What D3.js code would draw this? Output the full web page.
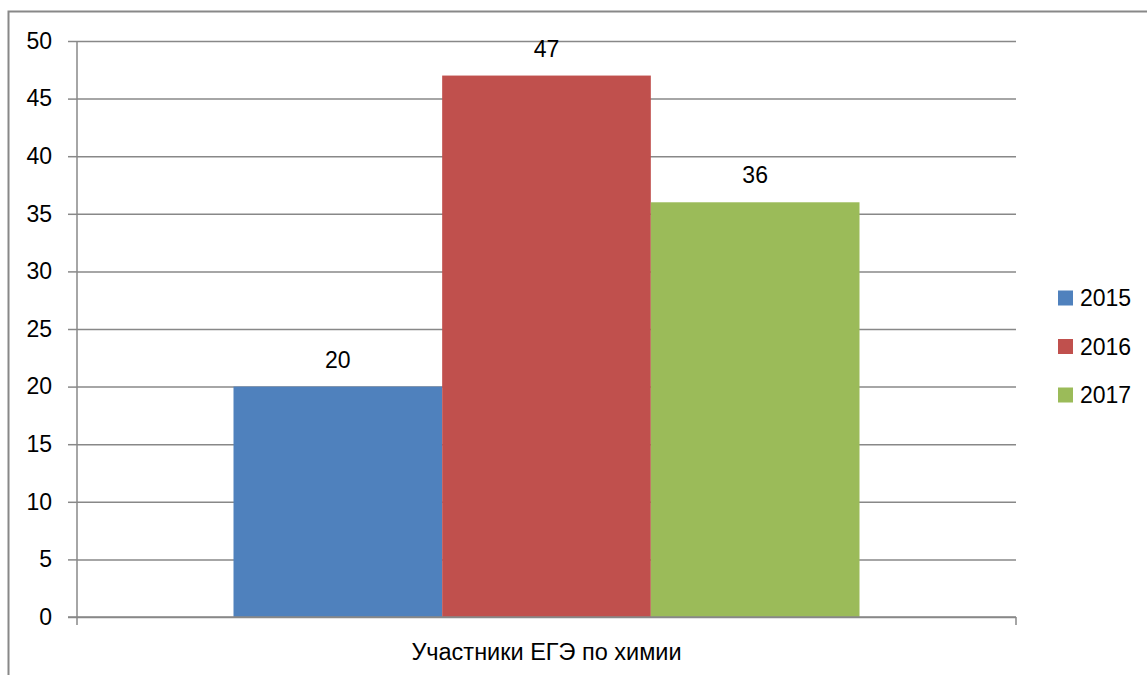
<!DOCTYPE html>
<html>
<head>
<meta charset="utf-8">
<script src="https://cdn.jsdelivr.net/npm/d3@7"></script>
<style>
  body { margin: 0; background: #fff; overflow: hidden; }
  text { font-family: "Liberation Sans", Arial, sans-serif; fill: #000; }
</style>
</head>
<body>
<script>
let category = "Участники ЕГЭ по химии";
let years = ["2015", "2016", "2017"];
let values = [20, 47, 36];
let colors = ["#4F81BD", "#C0504D", "#9BBB59"];
let yTicks = [0, 5, 10, 15, 20, 25, 30, 35, 40, 45, 50];

let width = 1147,
  height = 675,
  plotLeft = 77,
  plotRight = 1016,
  plotTop = 41,
  plotBottom = 617;

let svg = d3.select("body").append("svg")
  .attr("width", width)
  .attr("height", height)
  .style("display", "block");

// outer frame (runs off the right and bottom edges)
svg.append("path")
  .attr("d", `M8.5,${height} V11.5 H${width}`)
  .attr("fill", "none")
  .attr("stroke", "#888").attr("stroke-width", 2);

let y = d3.scaleLinear().domain([0, 50]).range([plotBottom, plotTop]);
let x0 = d3.scaleBand().domain([category]).range([plotLeft, plotRight]);
let x1 = d3.scaleBand().domain(years)
  .range([x0(category) + x0.bandwidth() / 6, x0(category) + x0.bandwidth() * 5 / 6]);

// gridlines + ticks
let yAxis = d3.axisLeft(y).tickValues(yTicks).tickSize(-(plotRight - plotLeft)).tickPadding(25);
let gy = svg.append("g").attr("transform", `translate(${plotLeft},0)`).call(yAxis);
gy.select(".domain").remove();
gy.selectAll(".tick line").attr("stroke", "#888").attr("stroke-width", 1.5);
gy.selectAll(".tick text").attr("font-size", "23px").attr("font-family", "Liberation Sans, Arial, sans-serif");
gy.selectAll(".tick").append("line")
  .attr("x1", -9).attr("x2", 0)
  .attr("stroke", "#888").attr("stroke-width", 1.5);

// bars
svg.selectAll("rect.bar").data(values).enter().append("rect")
  .attr("class", "bar")
  .attr("x", (d, i) => x1(years[i]))
  .attr("width", x1.bandwidth())
  .attr("y", d => y(d))
  .attr("height", d => y(0) - y(d))
  .attr("fill", (d, i) => colors[i]);

svg.selectAll("text.val").data(values).enter().append("text")
  .attr("class", "val")
  .attr("x", (d, i) => x1(years[i]) + x1.bandwidth() / 2)
  .attr("y", d => y(d) - 27)
  .attr("text-anchor", "middle")
  .attr("dominant-baseline", "central")
  .attr("font-size", "23px")
  .text(d => d);

// axes lines
svg.append("line")
  .attr("x1", plotLeft).attr("x2", plotLeft).attr("y1", plotTop).attr("y2", plotBottom + 8)
  .attr("stroke", "#888").attr("stroke-width", 1.5);
svg.append("line")
  .attr("x1", plotLeft - 9).attr("x2", plotRight).attr("y1", plotBottom).attr("y2", plotBottom)
  .attr("stroke", "#888").attr("stroke-width", 1.5);
svg.append("line")
  .attr("x1", plotRight).attr("x2", plotRight).attr("y1", plotBottom).attr("y2", plotBottom + 8)
  .attr("stroke", "#888").attr("stroke-width", 1.5);

svg.append("text")
  .attr("x", x0(category) + x0.bandwidth() / 2)
  .attr("y", 652)
  .attr("text-anchor", "middle")
  .attr("dominant-baseline", "central")
  .attr("font-size", "23.5px")
  .text(category);

// legend
let legend = svg.selectAll("g.legend").data(years).enter().append("g")
  .attr("class", "legend")
  .attr("transform", (d, i) => `translate(1058, ${298 + i * 48.5})`);
legend.append("rect")
  .attr("x", 0).attr("y", -7.5).attr("width", 15).attr("height", 15)
  .attr("fill", (d, i) => colors[i]);
legend.append("text")
  .attr("x", 22).attr("y", 0)
  .attr("dominant-baseline", "central")
  .attr("font-size", "23px")
  .text(d => d);
</script>
</body>
</html>
